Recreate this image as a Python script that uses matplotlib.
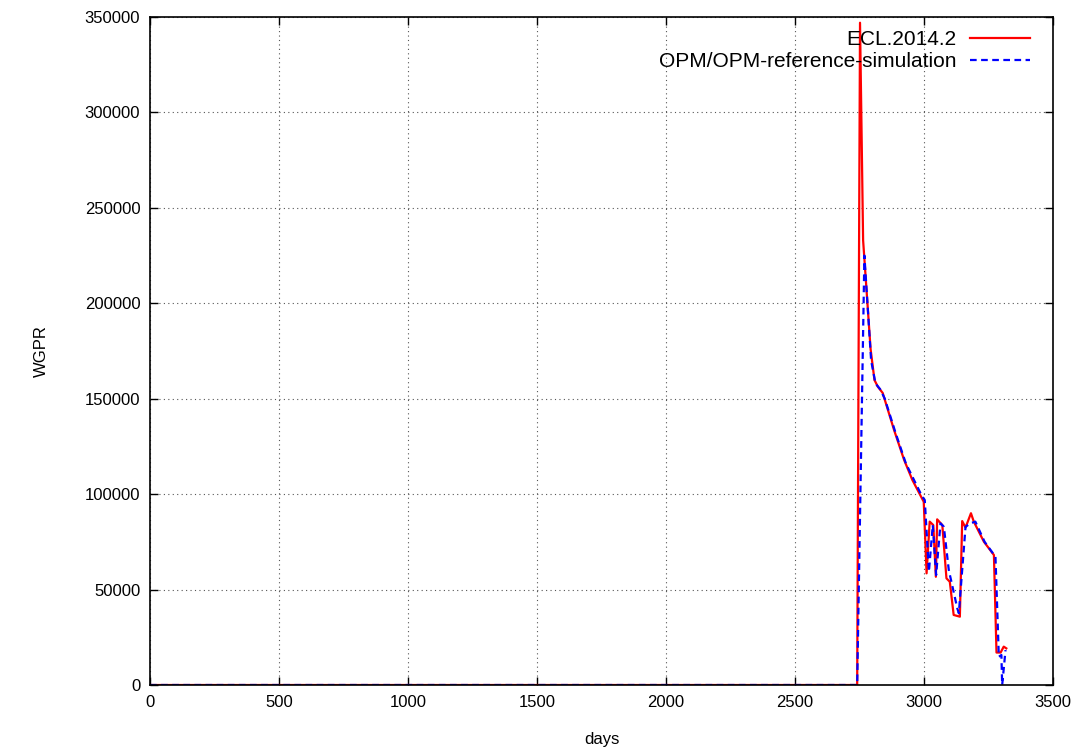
import matplotlib
matplotlib.use("Agg")
import matplotlib.pyplot as plt

plt.rcParams['font.family'] = ['Liberation Sans', 'DejaVu Sans']
plt.rcParams['font.size'] = 12

# ECL.2014.2 series (days, WGPR)
ecl_days = [0, 2741, 2752, 2764, 2793, 2808, 2821, 2840, 2884, 2923, 2955,
            2999, 3010, 3022, 3036, 3046, 3051, 3071, 3087, 3100, 3115,
            3139, 3148, 3161, 3182, 3193, 3232, 3271, 3281, 3297, 3309, 3319]
ecl_wgpr = [0, 0, 347000, 233000, 176000, 159800, 156300, 153000, 133600,
            117900, 107400, 96000, 58500, 85600, 83800, 56700, 86800, 83800,
            55900, 54100, 36700, 35800, 85900, 82500, 90000, 85600, 75100,
            68100, 17000, 17000, 20100, 19200]

# OPM/OPM-reference-simulation series (days, WGPR)
opm_days = [0, 2741, 2769, 2795, 2812, 2830, 2848, 2890, 2930, 2993, 3003,
            3019, 3034, 3047, 3064, 3077, 3096, 3129, 3135, 3161, 3180,
            3199, 3235, 3277, 3290, 3300, 3303, 3316]
opm_wgpr = [0, 0, 225000, 170000, 158000, 155000, 150000, 132000, 116000,
            98700, 96900, 59400, 83800, 57600, 84700, 82900, 60300, 40200,
            37600, 82900, 84700, 85600, 75000, 67200, 14800, 15700, 0, 18300]

fig = plt.figure(figsize=(10.86, 7.54), dpi=100)
ax = fig.add_axes([150 / 1086, 1 - 685 / 754, 903 / 1086, 668 / 754])

ax.plot(ecl_days, ecl_wgpr, color='#ff0000', lw=1.6, label='ECL.2014.2')
ax.plot(opm_days, opm_wgpr, color='#0000ff', lw=1.6, ls=(0, (3, 2)),
        label='OPM/OPM-reference-simulation')

ax.set_xlim(0, 3500)
ax.set_ylim(0, 350000)
ax.set_xticks(range(0, 3501, 500))
ax.set_yticks(range(0, 350001, 50000))
ax.tick_params(direction='in', top=True, right=True, length=6, width=1, pad=7)
ax.grid(True, ls=(0, (1, 3)), color='#555555', lw=0.8)
for s in ax.spines.values():
    s.set_linewidth(1.2)

ax.set_xlabel('days', labelpad=16)
ax.set_ylabel('WGPR', labelpad=26)

ax.legend(loc='upper right', bbox_to_anchor=(0.9745, 0.98), frameon=False,
          markerfirst=False, handlelength=2.9, borderaxespad=0, borderpad=0,
          labelspacing=0.15, handletextpad=0.65, fontsize=15)

fig.savefig('out.png', dpi=100)
